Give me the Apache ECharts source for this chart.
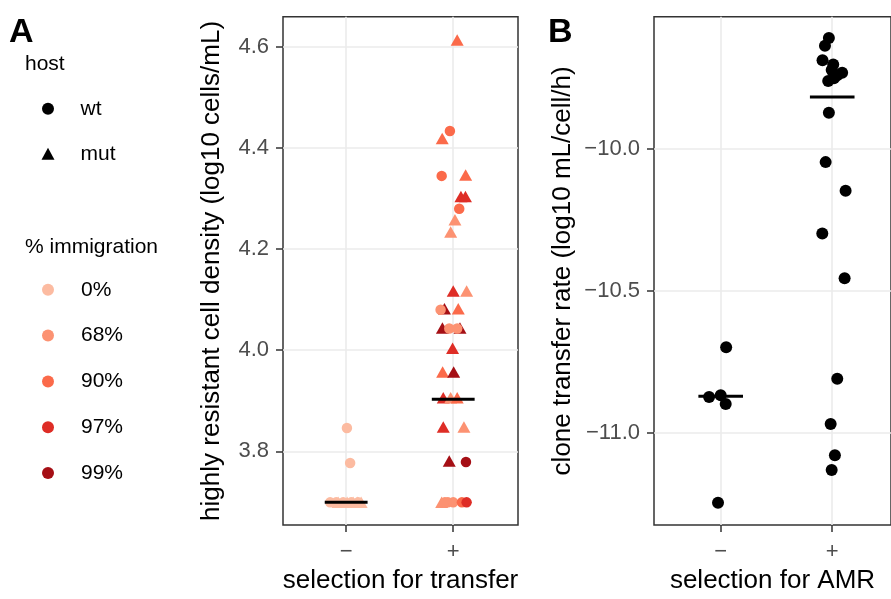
<!DOCTYPE html>
<html><head><meta charset="utf-8">
<script src="https://cdn.jsdelivr.net/npm/echarts@6/dist/echarts.min.js"></script>
<style>html,body{margin:0;padding:0;background:#fff}#c{width:891px;height:599px}</style>
</head><body><div id="c"></div>
<script>
const FONT = '"Liberation Sans", Arial, Helvetica, sans-serif';

// ---- categories / levels ----
const selectionTicks = ['\u2212', '+'];
const hostLevels = ['wt', 'mut'];
const immLevels = ['0%', '68%', '90%', '97%', '99%'];
const immColors = ['#FCBBA1', '#FC9272', '#FB6A4A', '#DE2D26', '#A50F15'];
const densityTicks = [3.8, 4.0, 4.2, 4.4, 4.6];
const rateTicks = [-11.0, -10.5, -10.0];

// ---- panel A: highly resistant cell density (jittered selection position, value, host, immigration) ----
const aX = [
  // selection − (mut first)
  0.925, 1.009, 1.065, 1.103, 1.140,
  // selection + (mut)
  2.037, 1.897, 2.116, 2.072, 2.114, 2.016, 1.976, 2.000, 2.125, 1.918, 2.047,
  1.899, 2.063, 1.994, 1.901, 2.004, 1.907, 1.976, 2.037, 1.907, 2.100, 1.963, 1.892,
  // selection − (wt)
  1.007, 1.037, 0.850, 0.907, 0.972, 1.047, 1.112,
  // selection + (wt)
  1.969, 1.892, 2.056, 1.882, 1.963, 2.037, 2.119, 1.922, 1.950, 2.000, 2.081, 2.125
];
const aY = [
  3.699, 3.699, 3.699, 3.699, 3.699,
  4.614, 4.419, 4.347, 4.304, 4.304, 4.258, 4.234, 4.117, 4.117, 4.082, 4.082,
  4.044, 4.044, 4.004, 3.957, 3.957, 3.906, 3.906, 3.906, 3.848, 3.848, 3.781, 3.699,
  3.846, 3.777, 3.699, 3.699, 3.699, 3.699, 3.699,
  4.434, 4.345, 4.280, 4.080, 4.043, 4.043, 3.779, 3.699, 3.699, 3.699, 3.699, 3.699
];
const aHost = [
  'mut', 'mut', 'mut', 'mut', 'mut',
  'mut', 'mut', 'mut', 'mut', 'mut', 'mut', 'mut', 'mut', 'mut', 'mut', 'mut',
  'mut', 'mut', 'mut', 'mut', 'mut', 'mut', 'mut', 'mut', 'mut', 'mut', 'mut', 'mut',
  'wt', 'wt', 'wt', 'wt', 'wt', 'wt', 'wt',
  'wt', 'wt', 'wt', 'wt', 'wt', 'wt', 'wt', 'wt', 'wt', 'wt', 'wt', 'wt'
];
const aImm = [
  '0%', '0%', '0%', '0%', '0%',
  '90%', '90%', '90%', '97%', '97%', '68%', '68%', '97%', '68%', '99%', '90%',
  '99%', '99%', '97%', '90%', '99%', '97%', '68%', '90%', '97%', '68%', '99%', '68%',
  '0%', '0%', '0%', '0%', '0%', '0%', '0%',
  '90%', '90%', '90%', '68%', '68%', '68%', '99%', '68%', '68%', '68%', '90%', '97%'
];
const aSummaryX = [1, 2];
const aSummary = [3.699, 3.903];

// ---- panel B: clone transfer rate ----
const bX = [
  0.896, 1.000, 1.045, 0.976, 1.049,
  1.970, 1.935, 1.913, 2.009, 1.995, 2.089, 2.045, 1.964, 2.015,
  1.970, 1.941, 2.120, 1.911, 2.111, 2.045, 1.986, 2.024, 1.995
];
const bY = [
  -10.874, -10.868, -10.899, -11.246, -10.699,
  -9.610, -9.637, -9.688, -9.703, -9.723, -9.732, -9.741, -9.761, -9.752,
  -9.873, -10.047, -10.148, -10.298, -10.456, -10.810, -10.969, -11.079, -11.131
];
const bSummaryX = [1, 2];
const bSummary = [-10.871, -9.818];

// ---- build options ----
const fmtMinus = v => v.toFixed(1).replace('-', '\u2212');
const tickStyle = { show: true, length: 7, lineStyle: { color: '#333333', width: 1.5 } };
const gridLine = { show: true, lineStyle: { color: '#EBEBEB', width: 1.6 } };
const labelStyle = { color: '#4D4D4D', fontSize: 22, fontFamily: FONT };
const nameStyle = { color: '#000', fontSize: 26, fontFamily: FONT };

function xAxisDef(gridIndex, min, max, name) {
  return {
    type: 'value', gridIndex, min, max, name, nameLocation: 'middle', nameGap: 42,
    nameTextStyle: nameStyle,
    axisLine: { show: false },
    axisTick: Object.assign({ customValues: [1, 2] }, tickStyle),
    axisLabel: Object.assign({ customValues: [1, 2], margin: 16,
      formatter: v => selectionTicks[Math.round(v) - 1] }, labelStyle),
    splitLine: gridLine
  };
}
function yAxisDef(gridIndex, min, max, ticks, name, gap) {
  return {
    type: 'value', gridIndex, min, max, name, nameLocation: 'middle', nameGap: gap,
    nameTextStyle: nameStyle,
    axisLine: { show: false },
    axisTick: Object.assign({ customValues: ticks }, tickStyle),
    axisLabel: Object.assign({ customValues: ticks, margin: 14, formatter: fmtMinus }, labelStyle),
    splitLine: gridLine
  };
}

const aPoints = aX.map((x, i) => ({
  value: [x, aY[i]],
  symbol: aHost[i] === 'wt' ? 'circle' : 'triangle',
  symbolSize: aHost[i] === 'wt' ? 10.5 : [13, 11.5],
  itemStyle: { color: immColors[immLevels.indexOf(aImm[i])], opacity: 1 }
}));
const bPoints = bX.map((x, i) => [x, bY[i]]);

const series = [
  { type: 'scatter', name: 'pointsA', xAxisIndex: 0, yAxisIndex: 0, data: aPoints, z: 3,
    itemStyle: { opacity: 1 } },
  { type: 'scatter', name: 'pointsB', xAxisIndex: 1, yAxisIndex: 1, data: bPoints,
    symbol: 'circle', symbolSize: 12, itemStyle: { color: '#000', opacity: 1 }, z: 3 }
];
aSummaryX.forEach((x, i) => series.push({
  type: 'line', xAxisIndex: 0, yAxisIndex: 0, symbol: 'none', z: 5,
  data: [[x - 0.2, aSummary[i]], [x + 0.2, aSummary[i]]],
  lineStyle: { color: '#000', width: 3 }
}));
bSummaryX.forEach((x, i) => series.push({
  type: 'line', xAxisIndex: 1, yAxisIndex: 1, symbol: 'none', z: 5,
  data: [[x - 0.2, bSummary[i]], [x + 0.2, bSummary[i]]],
  lineStyle: { color: '#000', width: 3 }
}));
// legend-only series
series.push({ type: 'scatter', name: 'wt', xAxisIndex: 0, yAxisIndex: 0, data: [], itemStyle: { color: '#000', opacity: 1 } });
series.push({ type: 'scatter', name: 'mut', xAxisIndex: 0, yAxisIndex: 0, data: [], itemStyle: { color: '#000', opacity: 1 } });
immLevels.forEach((lv, i) => series.push({
  type: 'scatter', name: lv, xAxisIndex: 0, yAxisIndex: 0, data: [], itemStyle: { color: immColors[i], opacity: 1 }
}));

const legendText = { color: '#000', fontSize: 21, fontFamily: FONT, padding: [0, 0, 0, 21] };

const option = {
  animation: false,
  backgroundColor: '#fff',
  textStyle: { fontFamily: FONT },
  title: [
    { text: 'A', left: 4, top: 10.5, textStyle: { fontSize: 34, fontWeight: 'bold', color: '#000', fontFamily: FONT } },
    { text: 'B', left: 543, top: 10.5, textStyle: { fontSize: 34, fontWeight: 'bold', color: '#000', fontFamily: FONT } },
    { text: 'host', left: 20, top: 49, textStyle: { fontSize: 21, fontWeight: 'normal', color: '#000', fontFamily: FONT } },
    { text: '% immigration', left: 20, top: 232, textStyle: { fontSize: 21, fontWeight: 'normal', color: '#000', fontFamily: FONT } }
  ],
  legend: [
    { orient: 'vertical', left: 36.5, top: 93.3, itemWidth: 13, itemHeight: 12, itemGap: 24,
      selectedMode: false, textStyle: legendText,
      data: [{ name: 'wt', icon: 'circle' }, { name: 'mut', icon: 'triangle' }] },
    { orient: 'vertical', left: 37, top: 274.3, itemWidth: 12, itemHeight: 12, itemGap: 24.8,
      selectedMode: false, textStyle: Object.assign({}, legendText, { padding: [0, 0, 0, 22] }),
      data: immLevels.map(n => ({ name: n, icon: 'circle' })) }
  ],
  grid: [
    { left: 283, top: 16.7, width: 235, height: 516, show: true, borderColor: '#333333', borderWidth: 1.5, containLabel: false },
    { left: 654, top: 16.7, width: 238, height: 516, show: true, borderColor: '#333333', borderWidth: 1.5, containLabel: false }
  ],
  xAxis: [
    xAxisDef(0, 0.41, 2.605, 'selection for transfer'),
    xAxisDef(1, 0.402, 2.527, 'selection for AMR')
  ],
  yAxis: [
    yAxisDef(0, 3.654, 4.660, densityTicks, 'highly resistant cell density (log10 cells/mL)', 58),
    yAxisDef(1, -11.325, -9.535, rateTicks, 'clone transfer rate (log10 mL/cell/h)', 78)
  ],
  series
};

const chart = echarts.init(document.getElementById('c'), null, { renderer: 'canvas' });
chart.setOption(option);
</script>
</body></html>
